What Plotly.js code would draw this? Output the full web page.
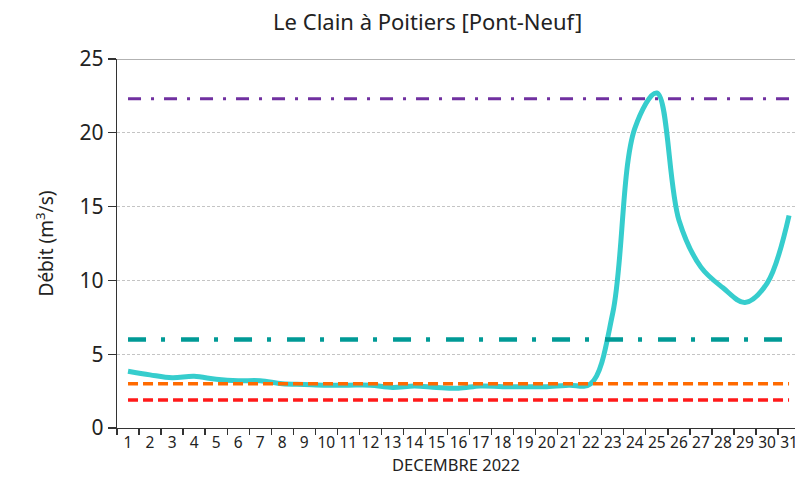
<!DOCTYPE html>
<html>
<head>
<meta charset="utf-8">
<script src="https://cdn.plot.ly/plotly-3.0.1.min.js"></script>
<style>html,body{margin:0;padding:0;overflow:hidden;background:#fff}</style>
</head>
<body>
<div id="chart" style="width:795px;height:485px"></div>
<script>
var days = ["1","2","3","4","5","6","7","8","9","10","11","12","13","14","15","16","17","18","19","20","21","22","23","24","25","26","27","28","29","30","31"];
var debit = [3.85,3.6,3.4,3.5,3.3,3.2,3.2,3.0,2.95,2.9,2.9,2.9,2.75,2.85,2.75,2.7,2.85,2.8,2.8,2.8,2.9,3.0,7.8,20.3,22.7,14.1,10.9,9.5,8.5,9.8,14.4];
var seuilPurple = 22.3;
var seuilTeal = 6.0;
var seuilOrange = 3.0;
var seuilRed = 1.9;
var yTicks = [0,5,10,15,20,25];

function flat(v){ return days.map(function(){ return v; }); }

var traces = [
  {x: days, y: debit, type:'scatter', mode:'lines', line:{color:'#36CDCD', width:5, shape:'spline', smoothing:1}, hoverinfo:'x+y'},
  {x: days, y: flat(seuilPurple), type:'scatter', mode:'lines', line:{color:'#7030A0', width:3, dash:'13px,10px,3px,10px'}},
  {x: days, y: flat(seuilTeal), type:'scatter', mode:'lines', line:{color:'#009A96', width:4.5, dash:'18px,15px,4px,16px'}},
  {x: days, y: flat(seuilOrange), type:'scatter', mode:'lines', line:{color:'#FF6A00', width:3.5, dash:'10px,5px'}},
  {x: days, y: flat(seuilRed), type:'scatter', mode:'lines', line:{color:'#FF1A1A', width:3.5, dash:'10px,5px'}}
];

var layout = {
  width: 795, height: 485,
  margin: {l:117, r:0, t:59, b:57},
  paper_bgcolor:'#fff', plot_bgcolor:'#fff',
  showlegend:false,
  font:{family:'"Noto Sans", sans-serif', color:'#222'},
  title:{text:'Le Clain à Poitiers [Pont-Neuf]', font:{size:22, color:'#222'}, x:0.538, xanchor:'center', y:0.953, yanchor:'middle'},
  xaxis:{
    type:'category', range:[-0.5, 30.27], tickson:'boundaries',
    ticks:'outside', ticklen:6, tickcolor:'#333', tickwidth:1.3,
    showline:true, linecolor:'#333', linewidth:1.3,
    showgrid:false, zeroline:false,
    tickfont:{size:15.5, color:'#222'}, tickangle:0,
    title:{text:'DECEMBRE 2022', font:{size:16.5, color:'#222'}, standoff:6}
  },
  yaxis:{
    range:[0,25], tickvals:yTicks, ticktext:yTicks.map(String),
    ticks:'outside', ticklen:8, tickcolor:'#333', tickwidth:1.3,
    showline:true, linecolor:'#333', linewidth:1.3,
    showgrid:true, gridcolor:'#c4c4c4', griddash:'3px,2px', gridwidth:1,
    zeroline:false,
    tickfont:{size:21, color:'#222'},
    title:{text:'Débit (m<sup>3</sup>/s)', font:{size:19, color:'#222'}, standoff:20}
  },
  shapes:[
    {type:'line', xref:'paper', yref:'y', x0:0, x1:1, y0:25, y1:25, line:{color:'#999', width:1.3}, layer:'above'}
  ]
};

Plotly.newPlot('chart', traces, layout, {displayModeBar:false, staticPlot:true});
</script>
</body>
</html>
